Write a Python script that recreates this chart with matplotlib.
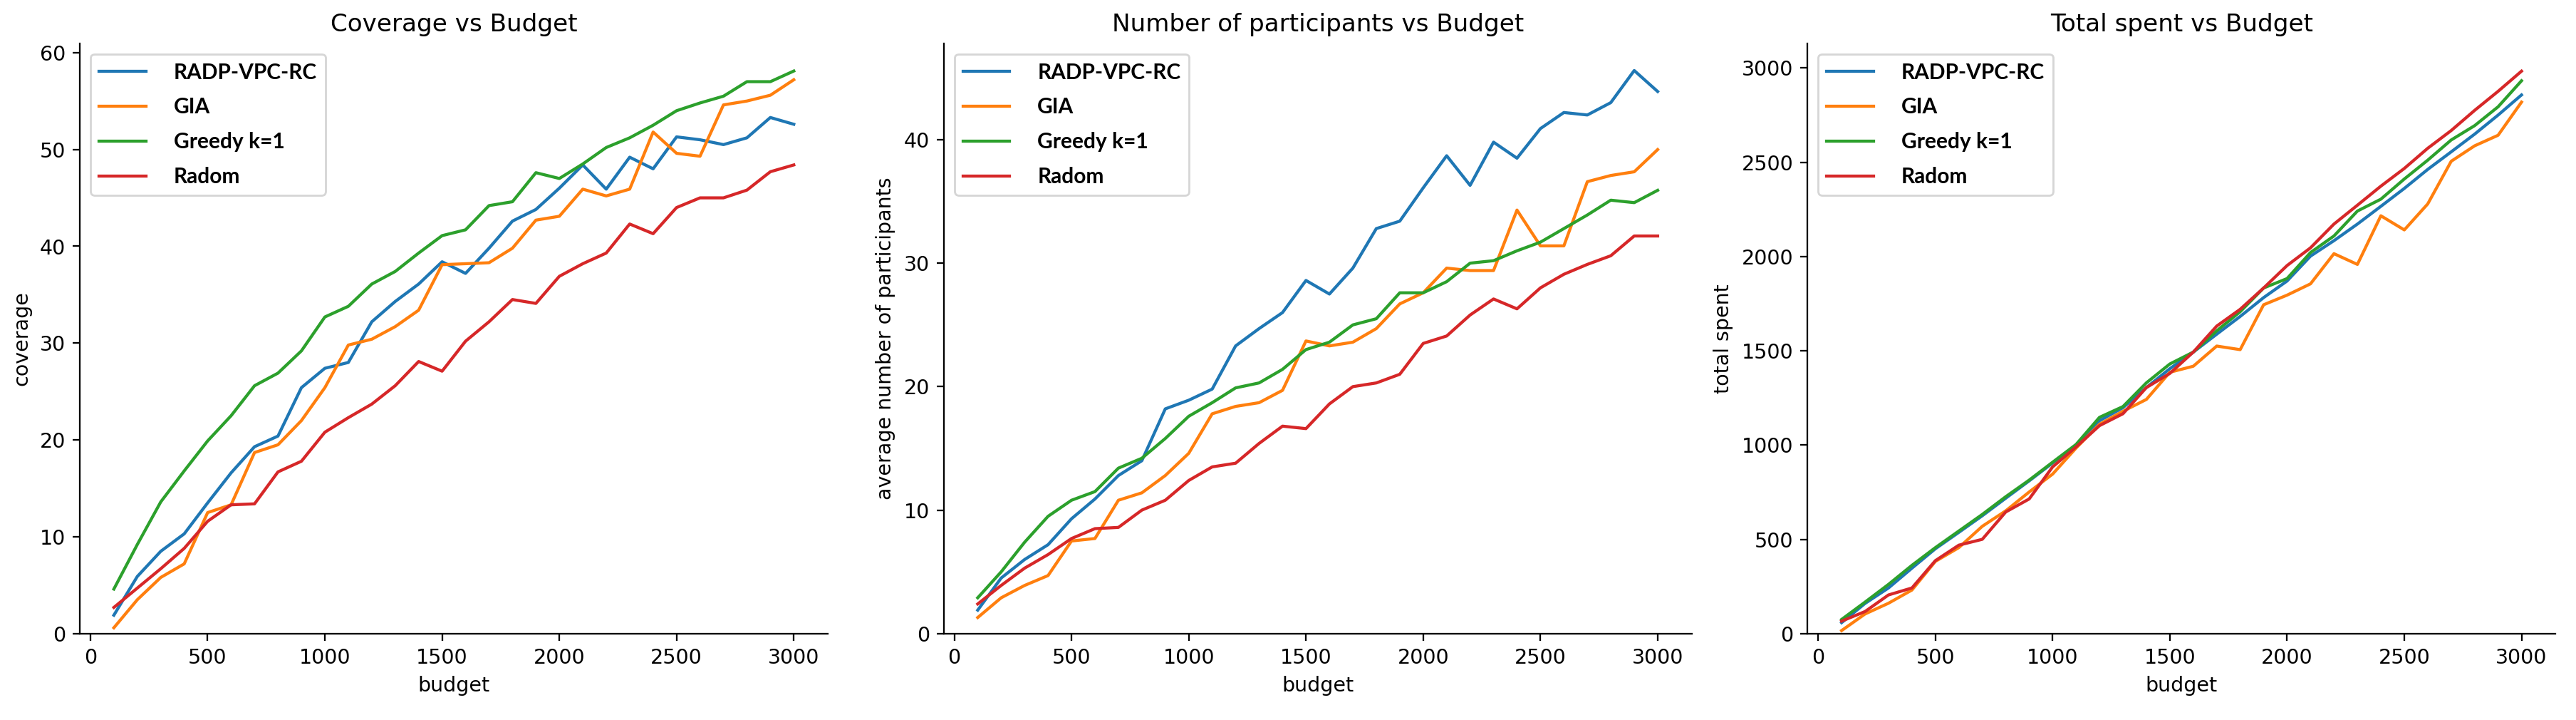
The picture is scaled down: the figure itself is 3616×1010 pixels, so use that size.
import matplotlib
matplotlib.use('Agg')
import matplotlib.pyplot as plt

plt.rcParams['font.family'] = ['DejaVu Sans']

# budgets on the x axis
budget = [100, 200, 300, 400, 500, 600, 700, 800, 900, 1000,
          1100, 1200, 1300, 1400, 1500, 1600, 1700, 1800, 1900, 2000,
          2100, 2200, 2300, 2400, 2500, 2600, 2700, 2800, 2900, 3000]

names = ['RADP-VPC-RC', 'GIA', 'Greedy k=1', 'Radom']

# coverage vs budget
cov_radp = [1.9, 5.9, 8.5, 10.3, 13.5, 16.6, 19.3, 20.4, 25.4, 27.4,
            28.0, 32.2, 34.3, 36.1, 38.4, 37.2, 39.8, 42.6, 43.8, 46.0,
            48.4, 45.9, 49.2, 48.0, 51.3, 51.0, 50.5, 51.2, 53.3, 52.6]
cov_gia = [0.6, 3.5, 5.8, 7.2, 12.5, 13.3, 18.7, 19.5, 22.0, 25.4,
           29.8, 30.4, 31.7, 33.4, 38.1, 38.2, 38.3, 39.8, 42.7, 43.1,
           45.9, 45.2, 45.9, 51.8, 49.6, 49.3, 54.6, 55.0, 55.6, 57.2]
cov_greedy = [4.6, 9.2, 13.6, 16.8, 19.9, 22.5, 25.6, 26.9, 29.2, 32.7,
              33.8, 36.1, 37.4, 39.3, 41.1, 41.7, 44.2, 44.6, 47.6, 47.0,
              48.5, 50.2, 51.2, 52.5, 54.0, 54.8, 55.5, 57.0, 57.0, 58.1]
cov_random = [2.7, 4.7, 6.7, 8.8, 11.6, 13.3, 13.4, 16.7, 17.8, 20.8,
              22.3, 23.7, 25.6, 28.1, 27.1, 30.2, 32.2, 34.5, 34.1, 36.9,
              38.2, 39.3, 42.3, 41.3, 44.0, 45.0, 45.0, 45.8, 47.7, 48.4]

# average number of participants vs budget
par_radp = [1.9, 4.5, 6.0, 7.2, 9.3, 10.9, 12.8, 14.0, 18.2, 18.9,
            19.8, 23.3, 24.7, 26.0, 28.6, 27.5, 29.6, 32.8, 33.4, 36.1,
            38.7, 36.3, 39.8, 38.5, 40.9, 42.2, 42.0, 43.0, 45.6, 43.9]
par_gia = [1.3, 2.9, 3.9, 4.7, 7.5, 7.7, 10.8, 11.4, 12.8, 14.6,
           17.8, 18.4, 18.7, 19.7, 23.7, 23.3, 23.6, 24.7, 26.7, 27.6,
           29.6, 29.4, 29.4, 34.3, 31.4, 31.4, 36.6, 37.1, 37.4, 39.2]
par_greedy = [2.9, 5.0, 7.4, 9.5, 10.8, 11.5, 13.4, 14.2, 15.8, 17.6,
              18.7, 19.9, 20.3, 21.4, 23.0, 23.6, 25.0, 25.5, 27.6, 27.6,
              28.5, 30.0, 30.2, 31.0, 31.7, 32.8, 33.9, 35.1, 34.9, 35.9]
par_random = [2.4, 3.9, 5.3, 6.4, 7.7, 8.5, 8.6, 10.0, 10.8, 12.4,
              13.5, 13.8, 15.4, 16.8, 16.6, 18.6, 20.0, 20.3, 21.0, 23.5,
              24.1, 25.8, 27.1, 26.3, 28.0, 29.1, 29.9, 30.6, 32.2, 32.2]

# total spent vs budget
spent_radp = [58, 160, 242, 347, 450, 537, 625, 718, 810, 905,
              1000, 1129, 1198, 1305, 1405, 1493, 1588, 1682, 1782, 1870,
              2002, 2084, 2172, 2266, 2361, 2462, 2555, 2649, 2750, 2857]
spent_gia = [16, 104, 161, 231, 383, 456, 569, 651, 751, 846,
             984, 1110, 1179, 1242, 1386, 1418, 1525, 1506, 1744, 1795,
             1855, 2015, 1958, 2216, 2141, 2279, 2505, 2587, 2643, 2819]
spent_greedy = [75, 167, 261, 362, 456, 544, 632, 726, 814, 909,
                1003, 1147, 1204, 1330, 1430, 1493, 1606, 1707, 1833, 1883,
                2021, 2109, 2241, 2304, 2411, 2511, 2618, 2694, 2794, 2932]
spent_random = [66, 117, 205, 242, 387, 469, 500, 645, 714, 884,
                990, 1103, 1166, 1305, 1380, 1493, 1631, 1720, 1833, 1952,
                2046, 2172, 2272, 2373, 2467, 2574, 2668, 2775, 2876, 2983]

colors = ['#1f77b4', '#ff7f0e', '#2ca02c', '#d62728']


def mkplt(ax, series, title, ylabel):
    for s, name, c in zip(series, names, colors):
        ax.plot(budget, s, color=c, linewidth=1.5, label=name)
    ax.set_title(title, fontsize=12)
    ax.set_xlabel('budget', fontsize=10)
    ax.set_ylabel(ylabel, fontsize=10)
    ax.set_ylim(bottom=0)
    ax.spines['top'].set_visible(False)
    ax.spines['right'].set_visible(False)
    ax.legend(loc='upper left',
              prop={'family': ['Lato', 'DejaVu Sans'], 'weight': 'bold', 'size': 10.5},
              handlelength=2.2, handletextpad=1.3, labelspacing=0.7)
    return ax


fig, axes = plt.subplots(1, 3, figsize=(17.64, 4.927), dpi=205)
fig.subplots_adjust(left=0.031, right=0.992, bottom=0.12, top=0.94, wspace=0.155)

mkplt(axes[0], [cov_radp, cov_gia, cov_greedy, cov_random],
      'Coverage vs Budget', 'coverage')
mkplt(axes[1], [par_radp, par_gia, par_greedy, par_random],
      'Number of participants vs Budget', 'average number of participants')
mkplt(axes[2], [spent_radp, spent_gia, spent_greedy, spent_random],
      'Total spent vs Budget', 'total spent')

plt.savefig('out.png', dpi=205)
